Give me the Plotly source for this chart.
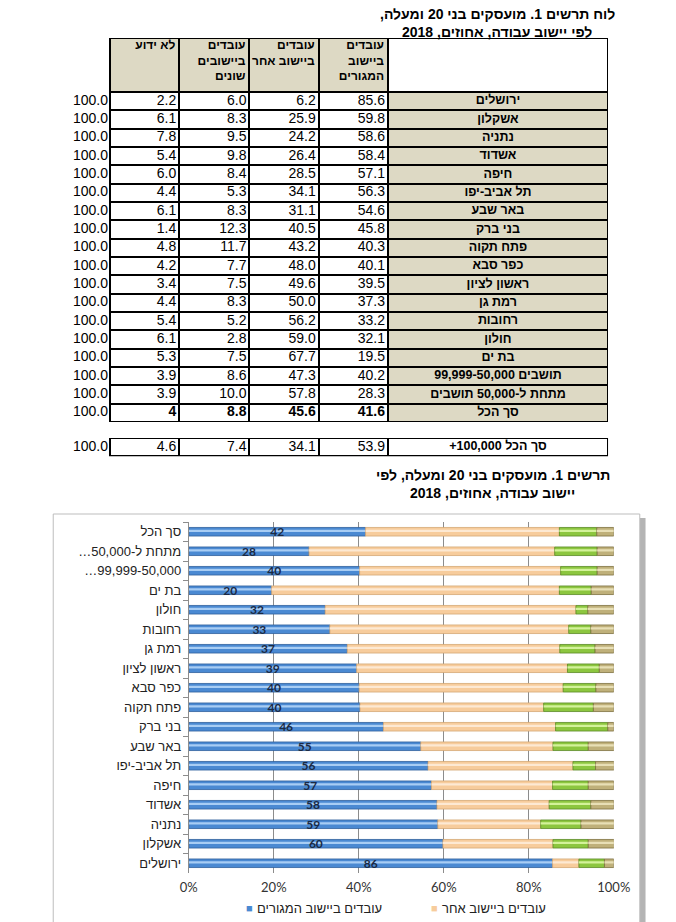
import numpy as np
import plotly.graph_objects as go

FW, FH = 676, 922


def X(px):
    return px / FW


def Y(py):
    return 1 - py / FH


RLE, PDF = "\u202b", "\u202c"


def rtl(s):
    return RLE + s + PDF


# ---------------- data ----------------
cities = ["ירושלים", "אשקלון", "נתניה", "אשדוד", "חיפה", "תל אביב-יפו", "באר שבע",
          "בני ברק", "פתח תקוה", "כפר סבא", "ראשון לציון", "רמת גן", "רחובות",
          "חולון", "בת ים", "תושבים 99,999-50,000", "מתחת ל-50,000 תושבים", "סך הכל"]
home = [85.6, 59.8, 58.6, 58.4, 57.1, 56.3, 54.6, 45.8, 40.3, 40.1, 39.5, 37.3,
        33.2, 32.1, 19.5, 40.2, 28.3, 41.6]
other = [6.2, 25.9, 24.2, 26.4, 28.5, 34.1, 31.1, 40.5, 43.2, 48.0, 49.6, 50.0,
         56.2, 59.0, 67.7, 47.3, 57.8, 45.6]
various = [6.0, 8.3, 9.5, 9.8, 8.4, 5.3, 8.3, 12.3, 11.7, 7.7, 7.5, 8.3, 5.2,
           2.8, 7.5, 8.6, 10.0, 8.8]
unknown = [2.2, 6.1, 7.8, 5.4, 6.0, 4.4, 6.1, 1.4, 4.8, 4.2, 3.4, 4.4, 5.4, 6.1,
           5.3, 3.9, 3.9, 4]
row_total = [100.0] * 18
home_labels = [86, 60, 59, 58, 57, 56, 55, 46, 40, 40, 39, 37, 33, 32, 20, 40, 28, 42]

big_name = "סך הכל 100,000+"
big_home, big_other, big_various, big_unknown, big_total = 53.9, 34.1, 7.4, 4.6, 100.0

chart_labels = ["ירושלים", "אשקלון", "נתניה", "אשדוד", "חיפה", "תל אביב-יפו", "באר שבע",
                "בני ברק", "פתח תקוה", "כפר סבא", "ראשון לציון", "רמת גן", "רחובות",
                "חולון", "בת ים", "99,999-50,000…", "מתחת ל-50,000…", "סך הכל"]
col_headers = ["לא ידוע", "עובדים<br>ביישובים<br>שונים", "עובדים<br>ביישוב אחר",
               "עובדים<br>ביישוב<br>המגורים", ""]
series_names = ["עובדים ביישוב המגורים", "עובדים ביישוב אחר",
                "עובדים ביישובים שונים", "לא ידוע"]
x_ticks = [0, 20, 40, 60, 80, 100]
x_ticktext = ["0%", "20%", "40%", "60%", "80%", "100%"]

table_title = ["לוח תרשים 1. מועסקים בני 20 ומעלה,", "לפי יישוב עבודה, אחוזים, 2018"]
chart_title = ["תרשים 1. מועסקים בני 20 ומעלה, לפי", "יישוב עבודה, אחוזים, 2018"]

# ---------------- styles ----------------
FONT = "Liberation Sans, Arial, DejaVu Sans, sans-serif"
BEIGE = "#ddd9c4"
TOT_W = 53                          # width of the borderless "100.0" column (px)
tw = [72, 73, 72, 72, 229]          # bordered table column widths (px)
ROW_H = 18.33
HEAD_H = 54
T_LEFT, T_RIGHT, T_TOP = 105, 623, 38
B_TOP = 438

n = len(cities)
x_edges = np.concatenate([[0], np.cumsum(tw)])
y_edges = np.concatenate([[0], np.cumsum([HEAD_H] + [ROW_H] * n)])
row_mid = (y_edges[1:-1] + y_edges[2:]) / 2
t_bot = T_TOP + y_edges[-1]

fig = go.Figure()

# ---------------- main table ----------------
z_main = [[1, 1, 1, 1, 0]] + [[0, 0, 0, 0, 1]] * n
fig.add_trace(go.Heatmap(x=x_edges, y=y_edges, z=z_main, xaxis="x2", yaxis="y2",
                         colorscale=[[0, "white"], [1, BEIGE]], zmin=0, zmax=1,
                         showscale=False, xgap=2, ygap=2, hoverinfo="skip"))


def fmt(v, bold):
    return f"<b>{v:g}</b>" if bold else f"{v:.1f}"


def text_trace(xs, ys, texts, pos, size, ax):
    return go.Scatter(x=xs, y=ys, mode="text", text=texts, textposition=pos,
                      xaxis="x" + ax, yaxis="y" + ax,
                      textfont=dict(family=FONT, size=size, color="black"),
                      cliponaxis=False, hoverinfo="skip", showlegend=False)


is_sum = [i == n - 1 for i in range(n)]
for j, col in enumerate([unknown, various, other, home]):
    fig.add_trace(text_trace([x_edges[j + 1] - 3] * n, row_mid,
                             [fmt(v, b) for v, b in zip(col, is_sum)],
                             "middle left", 14, "2"))
fig.add_trace(text_trace([(x_edges[4] + x_edges[5]) / 2] * n, row_mid,
                         ["<b>" + rtl(c) + "</b>" for c in cities],
                         "middle center", 12.5, "2"))
fig.add_trace(text_trace([-2] * n, row_mid, [f"{v:.1f}" for v in row_total],
                         "middle left", 14, "2"))
head_txt = ["<br>".join("<b>" + p + "</b>" for p in h.split("<br>")) if h else ""
            for h in col_headers]
fig.add_trace(text_trace(list(x_edges[1:] - 4), [2] * 5, head_txt, "bottom left", 12, "2"))

# ---------------- separate "100,000+" row ----------------
fig.add_trace(go.Heatmap(x=x_edges, y=[0, ROW_H], z=[[0, 0, 0, 0, 0]],
                         xaxis="x3", yaxis="y3",
                         colorscale=[[0, "white"], [1, BEIGE]], zmin=0, zmax=1,
                         showscale=False, xgap=2, ygap=2, hoverinfo="skip"))
big_vals = [big_unknown, big_various, big_other, big_home]
fig.add_trace(text_trace([-2] + list(x_edges[1:5] - 3), [ROW_H / 2] * 5,
                         [f"{big_total:.1f}"] + [f"{v:.1f}" for v in big_vals],
                         "middle left", 14, "3"))
fig.add_trace(text_trace([(x_edges[4] + x_edges[5]) / 2], [ROW_H / 2],
                         ["<b>" + rtl(big_name) + "</b>"], "middle center", 12.5, "3"))

# ---------------- chart ----------------
home_a = np.array(home)
other_a = np.array(other)
various_a = np.array(various)
unknown_a = np.array(unknown, dtype=float)
bases = [np.zeros(n), home_a, home_a + other_a, home_a + other_a + various_a]
vals = [home_a, other_a, various_a, unknown_a]
main_cols = ["#4a89d2", "#f7cc9c", "#8cc63f", "#bfb07a"]
hi_cols = ["#a8cdf4", "#fde9d3", "#d3f29a", "#e8dfb6"]
edge_cols = ["#2f5f9c", "#d6a874", "#5a8a25", "#7e703f"]

ylab = [rtl(s) for s in chart_labels]
for v, b, mc, hc, ec, nm in zip(vals, bases, main_cols, hi_cols, edge_cols, series_names):
    fig.add_trace(go.Bar(y=ylab, x=v, base=b, orientation="h", width=0.44,
                         marker=dict(color=mc, line=dict(color=ec, width=0.8)),
                         name=nm, showlegend=False, hoverinfo="skip"))
    fig.add_trace(go.Bar(y=ylab, x=v, base=b, orientation="h", width=0.11, offset=-0.01,
                         marker=dict(color=hc, line=dict(width=0)),
                         showlegend=False, hoverinfo="skip"))

fig.add_trace(go.Bar(y=ylab, x=home_a, base=np.zeros(n), orientation="h", width=0.9,
                     marker=dict(color="rgba(0,0,0,0)", line=dict(width=0)),
                     text=[f"<b>{v}</b>" for v in home_labels],
                     textposition="inside", insidetextanchor="middle", textangle=0,
                     constraintext="none",
                     textfont=dict(family="Lato, " + FONT, size=12, color="#1b2a44"),
                     showlegend=False, hoverinfo="skip"))

tbl_axis = dict(visible=False, fixedrange=True)
fig.update_layout(
    width=FW, height=FH,
    margin=dict(l=0, r=0, t=0, b=0),
    paper_bgcolor="white", plot_bgcolor="white",
    barmode="overlay",
    showlegend=False,
    font=dict(family=FONT, color="#222"),
    xaxis=dict(domain=[X(187), X(629)], range=[0, 100], tickvals=x_ticks,
               ticktext=x_ticktext, showgrid=True, gridcolor="#8c8c8c", gridwidth=1,
               zeroline=False, showline=False, ticks="", ticklabelstandoff=5,
               tickfont=dict(family="Lato, " + FONT, size=13, color="#333")),
    yaxis=dict(domain=[Y(873), Y(522)], type="category", categoryorder="array",
               categoryarray=ylab, range=[-0.5, n - 0.5],
               showline=True, linecolor="#8c8c8c", linewidth=1,
               ticks="outside", tickson="boundaries", ticklen=5, tickcolor="#8c8c8c",
               ticklabelstandoff=4, showgrid=False,
               tickfont=dict(family=FONT, size=13, color="#222")),
    xaxis2=dict(domain=[X(T_LEFT - TOT_W), X(T_RIGHT)], range=[-TOT_W, x_edges[-1]],
                anchor="y2", **tbl_axis),
    yaxis2=dict(domain=[Y(t_bot), Y(T_TOP)], range=[y_edges[-1], 0], anchor="x2",
                **tbl_axis),
    xaxis3=dict(domain=[X(T_LEFT - TOT_W), X(T_RIGHT)], range=[-TOT_W, x_edges[-1]],
                anchor="y3", **tbl_axis),
    yaxis3=dict(domain=[Y(B_TOP + ROW_H), Y(B_TOP)], range=[ROW_H, 0], anchor="x3",
                **tbl_axis),
)

# black backgrounds behind the table cells (show through the cell gaps as borders)
for xr, yr, yb in [("x2", "y2", y_edges[-1]), ("x3", "y3", ROW_H)]:
    fig.add_shape(type="rect", xref=xr, yref=yr, x0=-1, x1=x_edges[-1] + 1,
                  y0=-1, y1=yb + 1, fillcolor="black", line=dict(width=0), layer="below")

# chart frame + shadow
fig.add_shape(type="rect", xref="paper", yref="paper", x0=X(656), x1=X(662),
              y0=Y(940), y1=Y(518), fillcolor="#b4b4b4", line=dict(width=0), layer="below")
fig.add_shape(type="rect", xref="paper", yref="paper", x0=X(46), x1=X(656),
              y0=Y(940), y1=Y(514), fillcolor="white", line=dict(color="#bdbdbd", width=1),
              layer="below")

# titles
for i, line in enumerate(table_title):
    fig.add_annotation(x=X(508), y=Y(14 + 18 * i), xref="paper", yref="paper",
                       text="<b>" + rtl(line) + "</b>", showarrow=False,
                       xanchor="center", yanchor="middle",
                       font=dict(family=FONT, size=14, color="black"))
for i, line in enumerate(chart_title):
    fig.add_annotation(x=X(503), y=Y(475 + 18 * i), xref="paper", yref="paper",
                       text="<b>" + rtl(line) + "</b>", showarrow=False,
                       xanchor="center", yanchor="middle",
                       font=dict(family=FONT, size=14, color="black"))

# legend (two visible entries)
for sx, tx, col, nm in [(250, 256, main_cols[0], series_names[0]),
                        (443, 448, main_cols[1], series_names[1])]:
    fig.add_annotation(x=X(sx), y=Y(908), xref="paper", yref="paper", text="■",
                       showarrow=False, xanchor="center", yanchor="middle",
                       font=dict(size=11, color=col))
    fig.add_annotation(x=X(tx), y=Y(908), xref="paper", yref="paper", text=rtl(nm),
                       showarrow=False, xanchor="left", yanchor="middle",
                       font=dict(family=FONT, size=13, color="#222"))

fig.write_html("out.html", config={"displayModeBar": False},
               post_script="document.body.style.margin='0';")
